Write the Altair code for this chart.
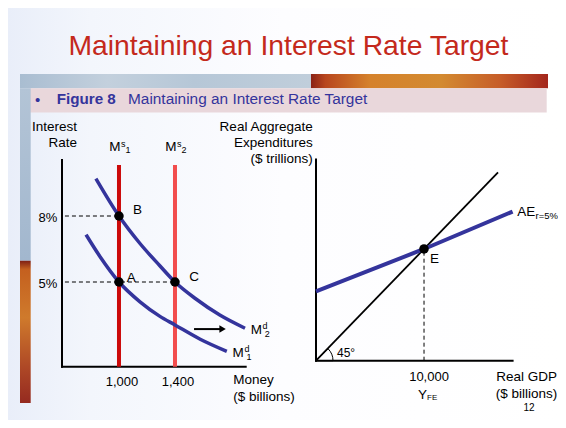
import altair as alt
import pandas as pd

FONT = "Liberation Sans"
NAVY = "#34349c"
TITLE_RED = "#c4291c"

# ---------------- data: money market (left panel) ----------------
md1_money = [765, 865, 1000, 1150, 1290, 1400, 1580, 1770]
md1_rate = [7.15, 6.15, 5.0, 4.1, 3.45, 3.05, 2.4, 1.85]
md2_money = [835, 1000, 1150, 1290, 1400, 1545, 1720, 1900]
md2_rate = [9.7, 8.0, 6.75, 5.75, 5.0, 4.25, 3.5, 2.9]
md_sub = ["1", "2"]
ms_money = [1000, 1400]
ms_sub = ["1", "2"]
ms_top_rate = 10.32
point_names = ["B", "A", "C"]
point_money = [1000, 1000, 1400]
point_rate = [8, 5, 5]
guide_rate = [8, 5]
guide_money = [1000, 1400]
guide_start_money = 614
rate_ticks = [8, 5]
rate_tick_labels = ["8%", "5%"]
money_ticks = [1000, 1400]
money_tick_labels = ["1,000", "1,400"]
shift_money = [1536, 1728]
shift_head_money = 1740
shift_rate = 2.86

# ---------------- data: aggregate expenditure (right panel) ----------------
ae_gdp = [0, 10000, 18200]
ae_exp = [6200, 10000, 13350]
line45_gdp = [0, 16850]
fe_gdp = 10000
fe_exp = 10000
gdp_ticks = [10000]
gdp_tick_labels = ["10,000"]

# ---------------- scales (placed in the slide) ----------------
money_min, money_max, money_axis_end = 593, 1900, 1905
rate_min, rate_max, rate_axis_end = 1.15, 10.6, 10.55
gdp_axis_end, exp_axis_end = 18200, 18000
XL = alt.Scale(domain=[money_min, money_max], range=[54, 237], nice=False, zero=False)
YL = alt.Scale(domain=[rate_min, rate_max], range=[358.7, 150.8], nice=False, zero=False)
XR = alt.Scale(domain=[0, 18200], range=[308, 504.6], nice=False, zero=False)
YR = alt.Scale(domain=[0, 18000], range=[352.7, 151.6], nice=False, zero=False)


def LX(f):
    return alt.X(f, type="quantitative", scale=XL, axis=None)


def LY(f):
    return alt.Y(f, type="quantitative", scale=YL, axis=None)


def RX(f):
    return alt.X(f, type="quantitative", scale=XR, axis=None)


def RY(f):
    return alt.Y(f, type="quantitative", scale=YR, axis=None)


def ptext(s, sx, sy, size=13.5, align="left", baseline="middle", color="black", weight="normal"):
    return alt.Chart(alt.Data(values=[{"t": s}])).mark_text(
        align=align, baseline=baseline, fontSize=size, font=FONT, color=color, fontWeight=weight
    ).encode(text="t:N", x=alt.value(sx - 8), y=alt.value(sy - 8))


def grad(stops, horizontal=True):
    return alt.Gradient(gradient="linear",
                        stops=[alt.GradientStop(color=c, offset=o) for o, c in stops],
                        x1=0, y1=0, x2=1 if horizontal else 0, y2=0 if horizontal else 1)


def prect(sx1, sy1, sx2, sy2, fill):
    return alt.Chart(alt.Data(values=[{}])).mark_rect(fill=fill).encode(
        x=alt.value(sx1 - 8), x2=alt.value(sx2 - 8), y=alt.value(sy1 - 8), y2=alt.value(sy2 - 8))


# ---------------- decorations ----------------
deco = [
    prect(8, 8, 558, 420, grad([(0, "#e9eef9"), (0.15, "#f3f6fc"), (0.5, "#fdfdff"), (1, "#ffffff")])),
    prect(20, 74, 311, 88.3, grad([(0, "#a9bdd1"), (0.3, "#c3d0dd"), (0.6, "#b6c7d7"), (1, "#c0cedb")])),
    prect(311, 74, 548, 88.3, grad([(0, "#8a2216"), (0.06, "#b8461e"), (0.25, "#d5822c"),
                                     (0.55, "#d38a30"), (0.8, "#c65c28"), (1, "#a3261c")])),
    prect(30, 88.3, 546.7, 112.5, "#e9d7db"),
    prect(20, 88.3, 30.7, 260.7, grad([(0, "#b3c4d6"), (1, "#a2b7ce")], horizontal=False)),
    prect(20, 260.7, 30.7, 403, grad([(0, "#7e1f14"), (0.06, "#c4601f"), (0.4, "#cf7a2c"),
                                       (0.75, "#ae4826"), (1, "#952a20")], horizontal=False)),
]

texts = [
    ptext("Maintaining an Interest Rate Target", 68.5, 54.5, size=28.3, baseline="alphabetic", color=TITLE_RED),
    ptext("\u2022", 37.5, 99.5, size=15, align="center", color=NAVY),
    ptext("Figure 8", 56.7, 104.3, size=15.2, baseline="alphabetic", color=NAVY, weight="bold"),
    ptext("Maintaining an Interest Rate Target", 128, 104.3, size=15.4, baseline="alphabetic", color=NAVY),
    ptext("Interest", 77, 126.7, align="right"),
    ptext("Rate", 77, 143, align="right"),
    ptext("Money", 233.3, 380),
    ptext("($ billions)", 233.3, 396.7),
    ptext("Real Aggregate", 312.7, 126.5, align="right"),
    ptext("Expenditures", 312.7, 143, align="right"),
    ptext("($ trillions)", 312.7, 159, align="right"),
    ptext("Real GDP", 526.7, 376.7, align="center"),
    ptext("($ billions)", 526.5, 394, align="center"),
    ptext("12", 529, 407.7, size=10, align="center"),
]

# ---------------- left panel ----------------
l_axes_df = pd.DataFrame({"x": [money_min, money_min], "x2": [money_min, money_axis_end],
                          "y": [rate_min, rate_min], "y2": [rate_axis_end, rate_min]})
l_axes = alt.Chart(l_axes_df).mark_rule(strokeWidth=2, color="black", strokeCap="square").encode(
    x=LX("x"), x2="x2", y=LY("y"), y2="y2")

rate_tick_df = pd.DataFrame({"money": [money_min] * len(rate_ticks), "rate": rate_ticks, "lab": rate_tick_labels})
rate_tick_text = alt.Chart(rate_tick_df).mark_text(align="right", baseline="middle", fontSize=13,
                                                   font=FONT, dx=-4.7, dy=1.5).encode(
    x=LX("money"), y=LY("rate"), text="lab:N")
money_tick_df = pd.DataFrame({"money": money_ticks, "rate": [rate_min] * len(money_ticks), "lab": money_tick_labels})
money_tick_text = alt.Chart(money_tick_df).mark_text(align="center", baseline="middle", fontSize=13,
                                                     font=FONT, dx=3, dy=15).encode(
    x=LX("money"), y=LY("rate"), text="lab:N")

ms_df = pd.DataFrame({"money": ms_money, "sub": ms_sub,
                      "bottom": [rate_min] * len(ms_money), "top": [ms_top_rate] * len(ms_money)})
ms_rules = alt.Chart(ms_df).mark_rule(strokeWidth=4).encode(
    x=LX("money"), y=LY("bottom"), y2="top",
    color=alt.Color("sub:N", scale=alt.Scale(domain=ms_sub, range=["#cc0a0a", "#f24d4d"]), legend=None))

guide_df = pd.DataFrame({"start": [guide_start_money] * len(guide_rate), "money": guide_money, "rate": guide_rate})
guides = alt.Chart(guide_df).mark_rule(strokeWidth=1, strokeDash=[4, 3], color="black").encode(
    x=LX("start"), x2="money", y=LY("rate"))

md_df = pd.concat([
    pd.DataFrame({"curve": md_sub[0], "money": md1_money, "rate": md1_rate}),
    pd.DataFrame({"curve": md_sub[1], "money": md2_money, "rate": md2_rate}),
])
md_lines = alt.Chart(md_df).mark_line(interpolate="monotone", strokeWidth=3.5, color=NAVY).encode(
    x=LX("money"), y=LY("rate"), detail="curve:N")

shift_df = pd.DataFrame({"m1": [shift_money[0]], "m2": [shift_money[1]], "rate": [shift_rate],
                         "head": [shift_head_money]})
shift_shaft = alt.Chart(shift_df).mark_rule(strokeWidth=2, color="black").encode(
    x=LX("m1"), x2="m2", y=LY("rate"))
shift_head = alt.Chart(shift_df).mark_point(shape="triangle-right", size=55, filled=True,
                                            color="black", opacity=1).encode(x=LX("head"), y=LY("rate"))

pts_df = pd.DataFrame({"name": point_names, "money": point_money, "rate": point_rate})
pts = alt.Chart(pts_df).mark_circle(size=90, color="black", opacity=1).encode(x=LX("money"), y=LY("rate"))

point_offsets = {"B": (14, -6), "A": (7.7, -4), "C": (14.3, -5)}
pt_labels = [
    alt.Chart(pts_df[pts_df["name"] == n]).mark_text(
        align="left", baseline="middle", fontSize=13.5, font=FONT, dx=dx, dy=dy
    ).encode(x=LX("money"), y=LY("rate"), text="name:N")
    for n, (dx, dy) in point_offsets.items()
]

ms_lab_df = ms_df.assign(main="M", sup="s")
ms_labels = [
    alt.Chart(ms_lab_df).mark_text(align="right", baseline="alphabetic", fontSize=13.5, font=FONT,
                                   dx=1.6, dy=-14.3).encode(x=LX("money"), y=LY("top"), text="main:N"),
    alt.Chart(ms_lab_df).mark_text(align="left", baseline="alphabetic", fontSize=9, font=FONT,
                                   dx=2, dy=-17.8).encode(x=LX("money"), y=LY("top"), text="sup:N"),
    alt.Chart(ms_lab_df).mark_text(align="left", baseline="alphabetic", fontSize=9, font=FONT,
                                   dx=6.5, dy=-11.7).encode(x=LX("money"), y=LY("top"), text="sub:N"),
]

md_end_df = pd.DataFrame({"money": [md1_money[-1], md2_money[-1]], "rate": [md1_rate[-1], md2_rate[-1]],
                          "main": ["M", "M"], "sup": ["d", "d"], "sub": md_sub})
md_labels = [
    alt.Chart(md_end_df).mark_text(align="left", baseline="alphabetic", fontSize=13.5, font=FONT,
                                   dx=5.8, dy=5.6).encode(x=LX("money"), y=LY("rate"), text="main:N"),
    alt.Chart(md_end_df).mark_text(align="left", baseline="alphabetic", fontSize=9, font=FONT,
                                   dx=17.6, dy=0.4).encode(x=LX("money"), y=LY("rate"), text="sup:N"),
    alt.Chart(md_end_df).mark_text(align="left", baseline="alphabetic", fontSize=9, font=FONT,
                                   dx=19.8, dy=9.1).encode(x=LX("money"), y=LY("rate"), text="sub:N"),
]

left_panel = alt.layer(l_axes, ms_rules, guides, md_lines, shift_shaft, shift_head, pts,
                       rate_tick_text, money_tick_text, *pt_labels, *ms_labels, *md_labels)

# ---------------- right panel ----------------
r_axes_df = pd.DataFrame({"x": [0, 0], "x2": [0, gdp_axis_end], "y": [0, 0], "y2": [exp_axis_end, 0]})
r_axes = alt.Chart(r_axes_df).mark_rule(strokeWidth=2, color="black", strokeCap="square").encode(
    x=RX("x"), x2="x2", y=RY("y"), y2="y2")

gdp_tick_df = pd.DataFrame({"gdp": gdp_ticks, "exp": [0] * len(gdp_ticks), "lab": gdp_tick_labels})
gdp_tick_text = alt.Chart(gdp_tick_df).mark_text(align="center", baseline="middle", fontSize=13,
                                                 font=FONT, dx=5, dy=16).encode(
    x=RX("gdp"), y=RY("exp"), text="lab:N")

l45_df = pd.DataFrame({"gdp": line45_gdp, "exp": line45_gdp})
line45 = alt.Chart(l45_df).mark_line(strokeWidth=1.8, color="black").encode(x=RX("gdp"), y=RY("exp"))

ae_df = pd.DataFrame({"gdp": ae_gdp, "exp": ae_exp})
ae_line = alt.Chart(ae_df).mark_line(strokeWidth=4, color=NAVY).encode(x=RX("gdp"), y=RY("exp"))

fe_df = pd.DataFrame({"gdp": [fe_gdp], "exp": [fe_exp], "zero": [0], "name": ["E"],
                      "main": ["Y"], "sub": ["FE"]})
fe_rule = alt.Chart(fe_df).mark_rule(strokeWidth=1, strokeDash=[4, 3], color="black").encode(
    x=RX("gdp"), y=RY("zero"), y2="exp")
fe_point = alt.Chart(fe_df).mark_circle(size=90, color="black", opacity=1).encode(x=RX("gdp"), y=RY("exp"))
fe_label = alt.Chart(fe_df).mark_text(align="left", baseline="middle", fontSize=13.5, font=FONT,
                                      dx=6, dy=10).encode(x=RX("gdp"), y=RY("exp"), text="name:N")
yfe_main = alt.Chart(fe_df).mark_text(align="right", baseline="alphabetic", fontSize=13.5, font=FONT,
                                      dx=3, dy=38).encode(x=RX("gdp"), y=RY("zero"), text="main:N")
yfe_sub = alt.Chart(fe_df).mark_text(align="left", baseline="alphabetic", fontSize=8, font=FONT,
                                     dx=3, dy=39.5).encode(x=RX("gdp"), y=RY("zero"), text="sub:N")

origin_df = pd.DataFrame({"gdp": [0], "exp": [0], "lab": ["45\u00b0"]})
angle_arc = alt.Chart(origin_df).mark_arc(stroke="black", strokeWidth=1, fillOpacity=0).encode(
    x=RX("gdp"), y=RY("exp"), theta=alt.value(0.7854), theta2=alt.value(1.5708),
    radius=alt.value(17))
angle_lab = alt.Chart(origin_df).mark_text(align="left", baseline="alphabetic", fontSize=12, font=FONT,
                                           dx=21, dy=-4).encode(x=RX("gdp"), y=RY("exp"), text="lab:N")

ae_end_df = pd.DataFrame({"gdp": [ae_gdp[-1]], "exp": [ae_exp[-1]], "main": ["AE"], "sub": ["r=5%"]})
ae_lab_main = alt.Chart(ae_end_df).mark_text(align="left", baseline="alphabetic", fontSize=13.5, font=FONT,
                                             dx=4.7, dy=4).encode(x=RX("gdp"), y=RY("exp"), text="main:N")
ae_lab_sub = alt.Chart(ae_end_df).mark_text(align="left", baseline="alphabetic", fontSize=9.5, font=FONT,
                                            dx=23, dy=7.5).encode(x=RX("gdp"), y=RY("exp"), text="sub:N")

right_panel = alt.layer(angle_arc, r_axes, line45, ae_line, fe_rule, fe_point, fe_label, yfe_main,
                        yfe_sub, gdp_tick_text, angle_lab, ae_lab_main, ae_lab_sub)

chart = alt.layer(*deco, left_panel, right_panel, *texts).resolve_scale(
    x="independent", y="independent"
).properties(
    width=550, height=412, padding=0, autosize="none", background="#ffffff"
).configure_view(stroke=None)

chart.save("out.html", embed_options={"renderer": "svg", "actions": False})
